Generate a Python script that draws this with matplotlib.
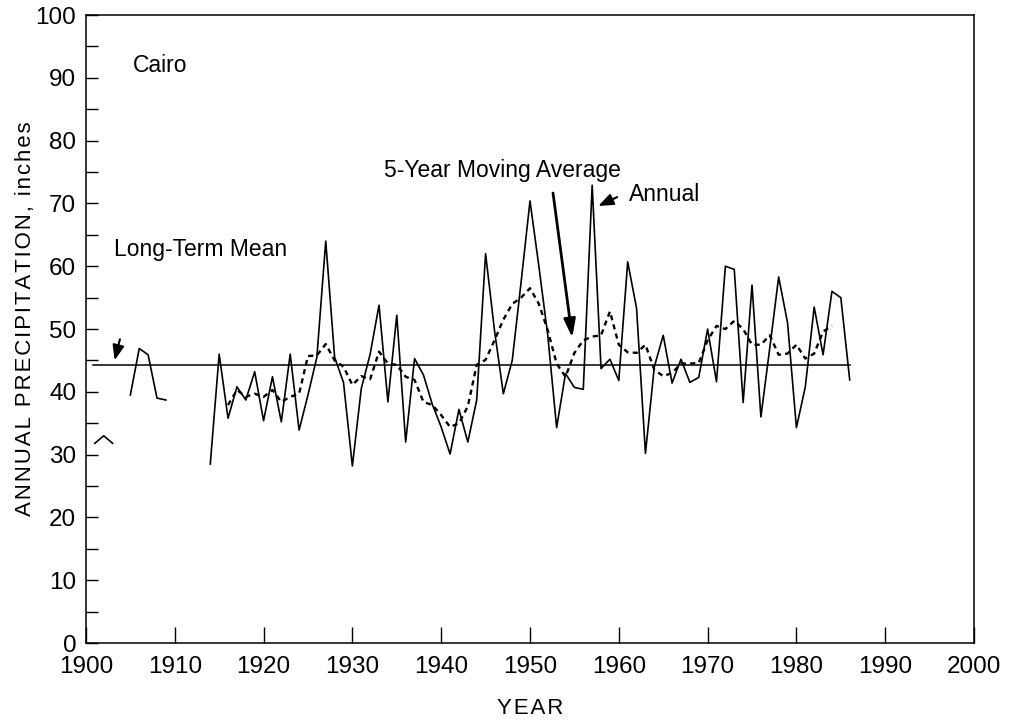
import numpy as np
import matplotlib
matplotlib.use('Agg')
import matplotlib.pyplot as plt

plt.rcParams['font.family'] = ['Liberation Sans', 'DejaVu Sans']

# annual precipitation, Cairo (inches), NaN = no record
early_years = list(range(1901, 1910))
early_vals = [31.8, 33.0, 31.8, np.nan, 39.5, 46.9, 45.9, 39.0, 38.7]

years = list(range(1914, 1987))
annual = [28.5, 46.0, 35.8, 40.8, 38.7, 43.2, 35.4, 42.4, 35.2, 46.0,
          33.9, 39.5, 45.5, 64.0, 45.5, 41.5, 28.2, 40.5, 46.0, 53.8,
          38.4, 52.2, 32.0, 45.3, 42.7, 38.0, 34.4, 30.1, 37.2, 32.0,
          38.7, 62.0, 49.8, 39.7, 45.0, 57.5, 70.4, 60.0, 49.0, 34.3,
          42.9, 40.7, 40.4, 72.9, 43.7, 45.2, 41.8, 60.7, 53.3, 30.2,
          44.0, 49.0, 41.4, 45.2, 41.5, 42.3, 50.0, 41.6, 60.0, 59.5,
          38.3, 57.0, 36.0, 47.0, 58.3, 51.0, 34.3, 40.8, 53.5, 45.9,
          56.0, 55.0, 41.9]

ma_years = list(range(1916, 1985))
moving_avg = [37.9, 40.3, 39.2, 39.7, 39.2, 40.3, 38.4, 39.2, 39.7, 45.7,
              45.8, 47.6, 45.0, 44.0, 41.1, 42.5, 42.0, 46.4, 44.5, 44.3,
              42.4, 41.9, 38.4, 37.9, 36.3, 34.4, 35.0, 37.7, 44.3, 45.1,
              48.2, 51.5, 54.0, 55.0, 56.5, 54.0, 49.8, 44.5, 42.4, 46.2,
              48.2, 48.8, 49.0, 52.8, 47.5, 46.3, 46.2, 47.5, 43.5, 42.5,
              43.0, 44.5, 44.5, 44.6, 48.2, 50.5, 50.0, 51.3, 50.0, 47.5,
              47.5, 49.0, 45.9, 46.1, 47.5, 45.3, 46.1, 49.6, 50.5]

mean_years = [1900.8, 1986]
mean_val = [44.2, 44.2]


def spaced(s):
    # the scanned labels are letter-spaced
    return '\u200a'.join(s)


fig = plt.figure(figsize=(10.1, 7.2), dpi=100)
ax = fig.add_axes([0.0851, 0.1069, 0.8793, 0.8722])

ax.plot(early_years, early_vals, color='black', lw=1.2)
ax.plot(years, annual, color='black', lw=1.2)
ax.plot(ma_years, moving_avg, color='black', lw=1.7, linestyle=(0, (2.2, 1.8)))
ax.plot(mean_years, mean_val, color='black', lw=1.1)

ax.set_xlim(1900, 2000)
ax.set_ylim(0, 100)
ax.set_xticks(range(1900, 2001, 10))
ax.set_yticks(range(0, 101, 10))
ax.set_yticks(range(5, 100, 10), minor=True)
ax.tick_params(axis='x', direction='in', length=11.5, width=1, labelsize=17.5, pad=9, top=False)
ax.tick_params(axis='y', which='both', direction='in', length=8.5, width=1, labelsize=17.5, pad=7, right=False)
for s in ax.spines.values():
    s.set_linewidth(1.1)

ax.set_xlabel(spaced('YEAR'), fontsize=16, labelpad=15)
ax.set_ylabel(spaced('ANNUAL PRECIPITATION, inches'), fontsize=16)
ax.yaxis.set_label_coords(-0.056, 0.517)

ax.text(1905.3, 92, 'Cairo', fontsize=16.5, va='center')
ax.text(1903.2, 62.7, 'Long-Term Mean', fontsize=16.5, va='center')
ax.text(1933.6, 75.3, '5-Year Moving Average', fontsize=16.5, va='center')
ax.text(1961.1, 71.5, 'Annual', fontsize=16.5, va='center')

arrow = dict(arrowstyle='-|>,head_length=0.9,head_width=0.35', color='black', lw=1.5)
ax.annotate('', xy=(1903.15, 44.6), xytext=(1903.9, 48.8), arrowprops=arrow)
ax.annotate('', xy=(1954.8, 48.2), xytext=(1952.55, 72.1),
            arrowprops=dict(arrowstyle='-|>,head_length=1.1,head_width=0.35', color='black', lw=2))
ax.annotate('', xy=(1957.4, 69.4), xytext=(1960.1, 71.2), arrowprops=arrow)

fig.savefig('out.png', dpi=100)
